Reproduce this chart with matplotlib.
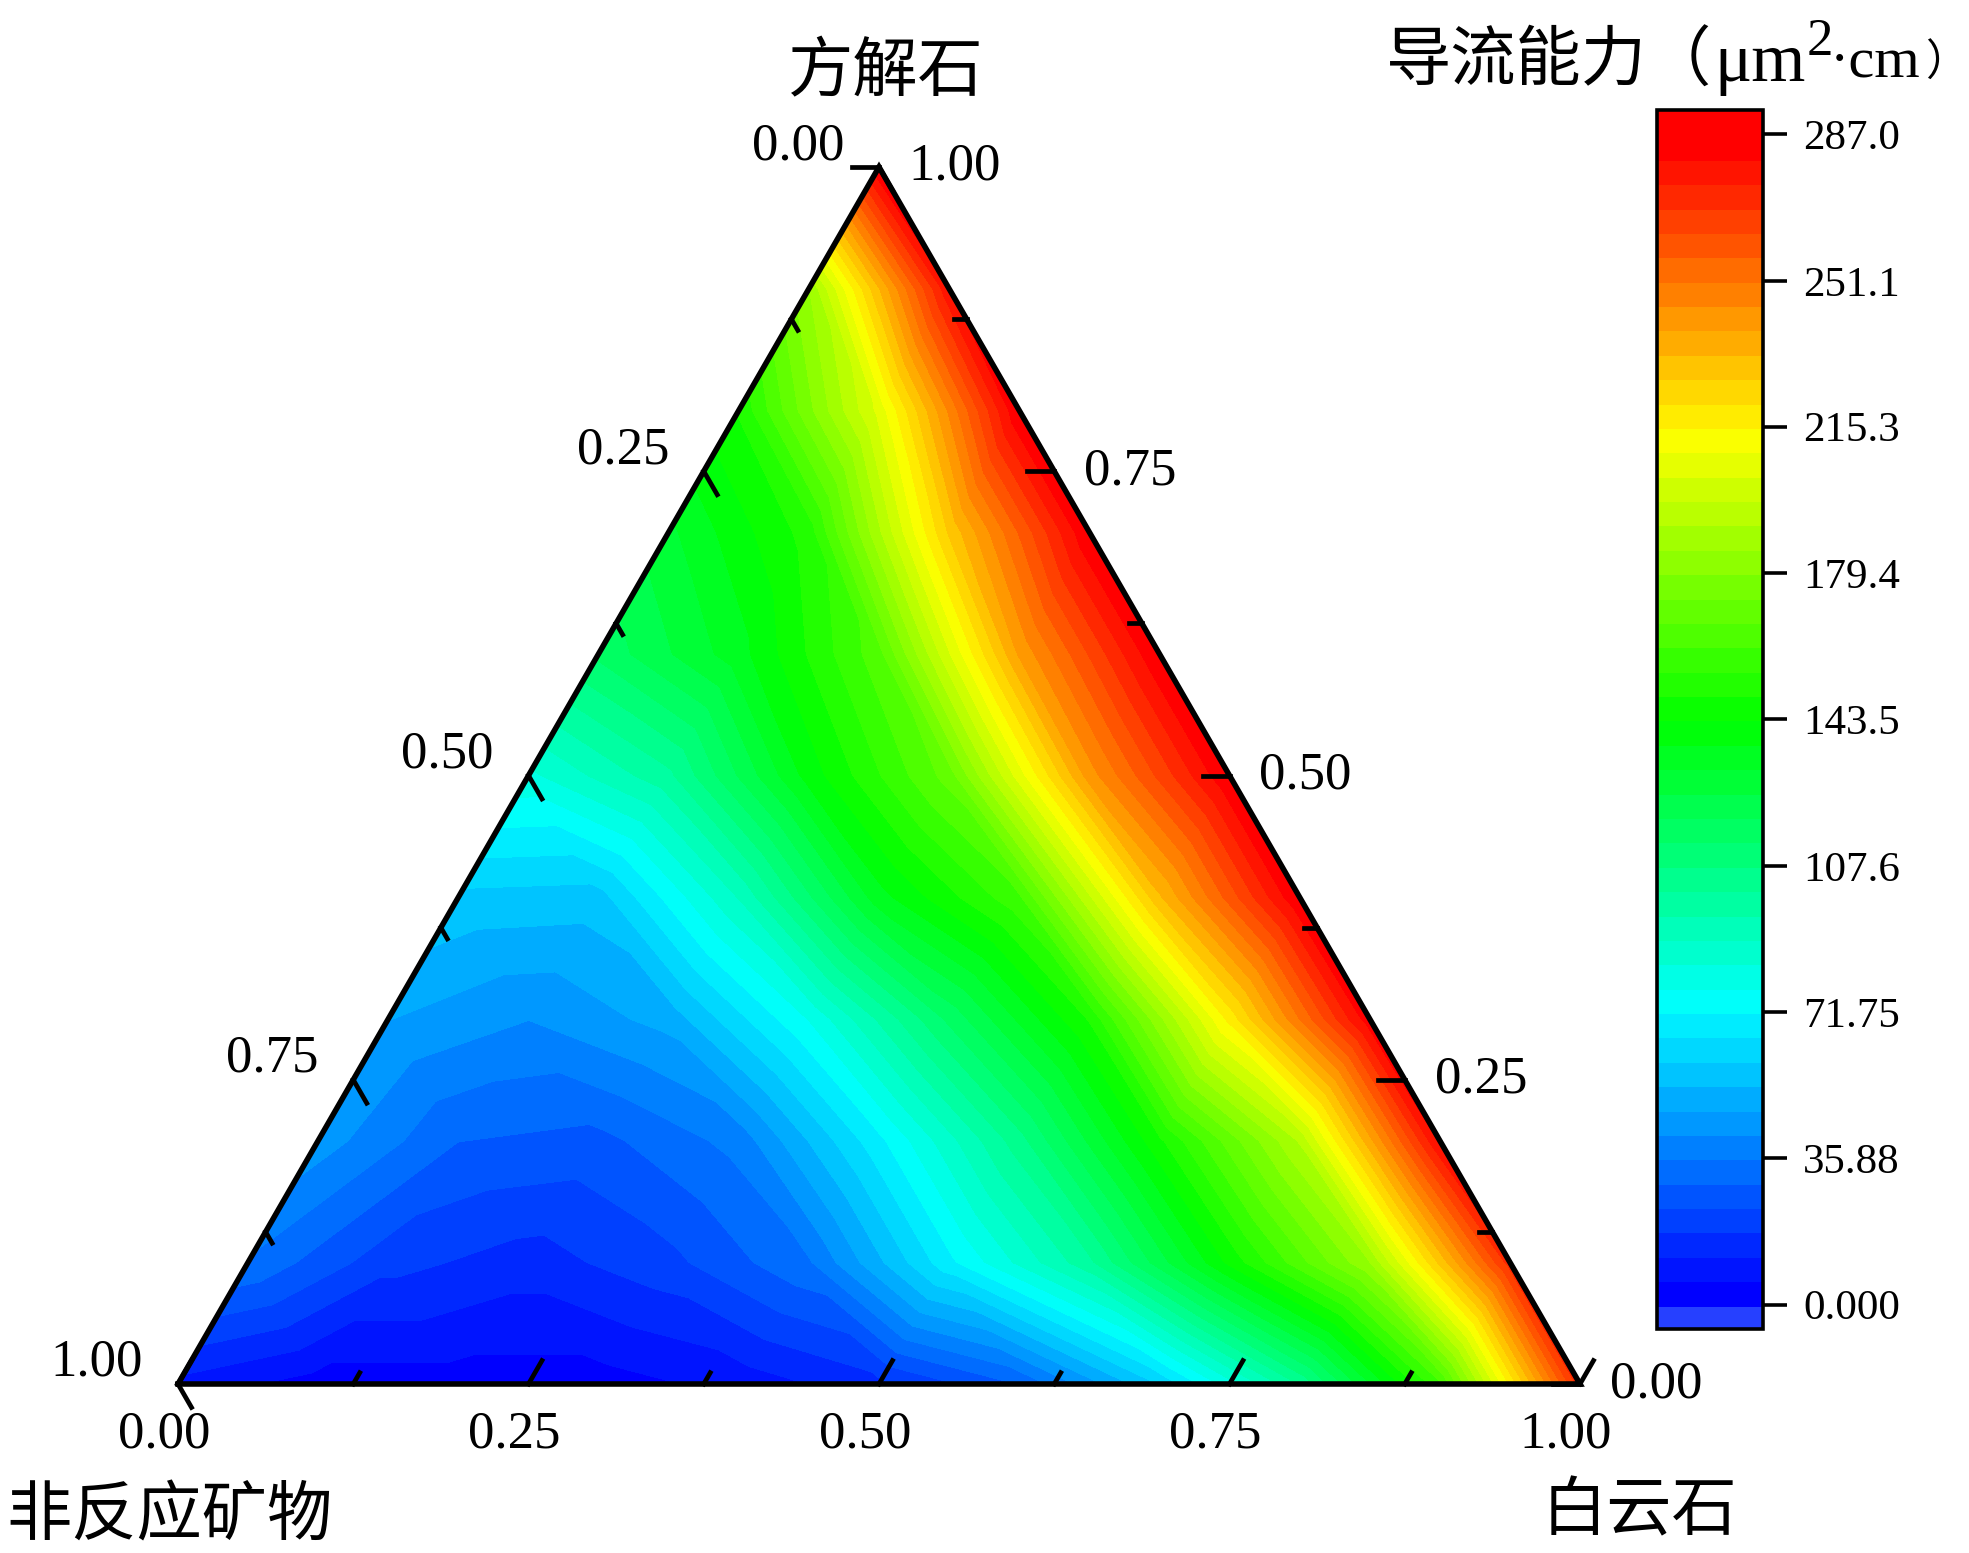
import numpy as np
import matplotlib
matplotlib.use('Agg')
import matplotlib.pyplot as plt
from matplotlib.colors import LinearSegmentedColormap, ListedColormap, BoundaryNorm
from matplotlib.tri import Triangulation

W, H = 1969, 1553
plt.rcParams['font.family'] = ['Liberation Serif', 'Noto Sans CJK SC', 'DejaVu Sans']

# values per row of calcite fraction, dolomite fraction runs 0 .. 1-calcite in 0.1 steps
calcite_rows = [0.0, 0.1, 0.2, 0.3, 0.4, 0.5, 0.6, 0.7, 0.8, 0.9, 1.0]
row_00 = [10, 3, 3, 3, 8, 16, 30, 60, 102, 160, 272]
row_01 = [35, 20, 15, 22, 35, 70, 100, 145, 185, 272]
row_02 = [45, 30, 28, 38, 70, 105, 148, 192, 282]
row_03 = [48, 42, 50, 78, 115, 150, 217, 285]
row_04 = [58, 57, 90, 135, 160, 232, 287]
row_05 = [82, 100, 140, 170, 242, 287]
row_06 = [115, 135, 165, 240, 287]
row_07 = [130, 152, 228, 287]
row_08 = [150, 205, 287]
row_09 = [185, 280]
row_10 = [287]
rows = [row_00, row_01, row_02, row_03, row_04, row_05, row_06, row_07, row_08, row_09, row_10]

cbar_ticks = [0.0, 35.88, 71.75, 107.6, 143.5, 179.4, 215.3, 251.1, 287.0]
cbar_labels = ['0.000', '35.88', '71.75', '107.6', '143.5', '179.4', '215.3', '251.1', '287.0']
tern_major = [0.0, 0.25, 0.5, 0.75, 1.0]
tern_minor = [0.125, 0.375, 0.625, 0.875]
tern_labels = ['0.00', '0.25', '0.50', '0.75', '1.00']

step = 287.0 / 48
levels = -step + step * np.arange(51)
rainbow = LinearSegmentedColormap.from_list('r', ['#0000ff', '#00ffff', '#00ff00', '#ffff00', '#ff0000'])
cols = ['#2640ff'] + [rainbow(k / 47) for k in range(48)] + ['#ff0000']
cmap = ListedColormap(cols)
norm = BoundaryNorm(levels, cmap.N)

d, c, v = [], [], []
for ci, row in zip(calcite_rows, rows):
    for j, val in enumerate(row):
        d.append(j * 0.1)
        c.append(ci)
        v.append(val)
d = np.array(d)
c = np.array(c)
v = np.array(v, dtype=float)
s3 = np.sqrt(3) / 2


def xy(dol, cal):
    return dol + cal / 2, cal * s3


fig = plt.figure(figsize=(W / 100, H / 100), dpi=100)
ax = fig.add_axes([178 / W, (H - 1384) / H, 1402 / W, 1217 / H])
ax.set_xlim(0, 1)
ax.set_ylim(0, s3)
ax.axis('off')

x, y = xy(d, c)
cs = ax.tricontourf(Triangulation(x, y), v, levels=levels, cmap=cmap, norm=norm)
cs.set_edgecolor('face')
cs.set_linewidth(0.4)

ax.plot([0, 1, 0.5, 0], [0, 0, s3, 0], color='k', lw=4, clip_on=False, solid_joinstyle='miter', zorder=5)

L = 27 / 1402
m = 13 / 1402
co, si = 0.5, s3


def tick(px, py, dx, dy, n):
    ax.plot([px, px + dx * n], [py, py + dy * n], color='k', lw=3.4, clip_on=False, zorder=4)


def lab(px, py, txt, ox, oy):
    ax.annotate(txt, (px, py), xytext=(ox, oy), textcoords='offset pixels', ha='center', va='center',
                fontsize=38, annotation_clip=False)


# bottom axis, dolomite
for t, txt in zip(tern_major, tern_labels):
    tick(t, 0, co, si, L)
    lab(t, 0, txt, -14, -50)
for t in tern_minor:
    tick(t, 0, co, si, m)

# right axis, calcite
for t, txt in zip(tern_major, tern_labels):
    px, py = xy(1 - t, t)
    tick(px, py, -1, 0, L)
    lab(px, py, txt, 76, 0)
for t in tern_minor:
    px, py = xy(1 - t, t)
    tick(px, py, -1, 0, m)

# left axis, non reactive minerals
for t, txt in zip(tern_major, tern_labels):
    px, py = xy(0, 1 - t)
    tick(px, py, co, -si, L)
    lab(px, py, txt, -81, 21)
for t in tern_minor:
    px, py = xy(0, 1 - t)
    tick(px, py, co, -si, m)

fig.text(886 / W, 1 - 75 / H, '方解石', fontsize=47, ha='center', va='center')
fig.text(6 / W, 1 - 1519 / H, '非反应矿物', fontsize=47, ha='left', va='center')
fig.text(1542 / W, 1 - 1514 / H, '白云石', fontsize=47, ha='left', va='center')

fig.text(1386 / W, 1 - 64 / H, '导流能力（', fontsize=47, ha='left', va='center')
fig.text(1714 / W, 1 - 64 / H, 'μm', fontsize=50, ha='left', va='center')
fig.text(1807 / W, 1 - 42 / H, '2', fontsize=38, ha='left', va='center')
fig.text(1830 / W, 1 - 64 / H, '·cm', fontsize=42, ha='left', va='center')
fig.text(1925 / W, 1 - 64 / H, '）', fontsize=31, ha='left', va='center')

cax = fig.add_axes([1657 / W, (H - 1329) / H, 106 / W, 1219 / H])
cb = fig.colorbar(cs, cax=cax, ticks=cbar_ticks, spacing='proportional')
cb.ax.set_yticklabels(cbar_labels)
cb.ax.tick_params(length=17, width=2.6, labelsize=31, pad=12, color='k', which='major')
cb.ax.minorticks_off()
cb.outline.set_linewidth(2.6)
cb.solids.set_edgecolor('face')

fig.savefig('out.png', dpi=100)
